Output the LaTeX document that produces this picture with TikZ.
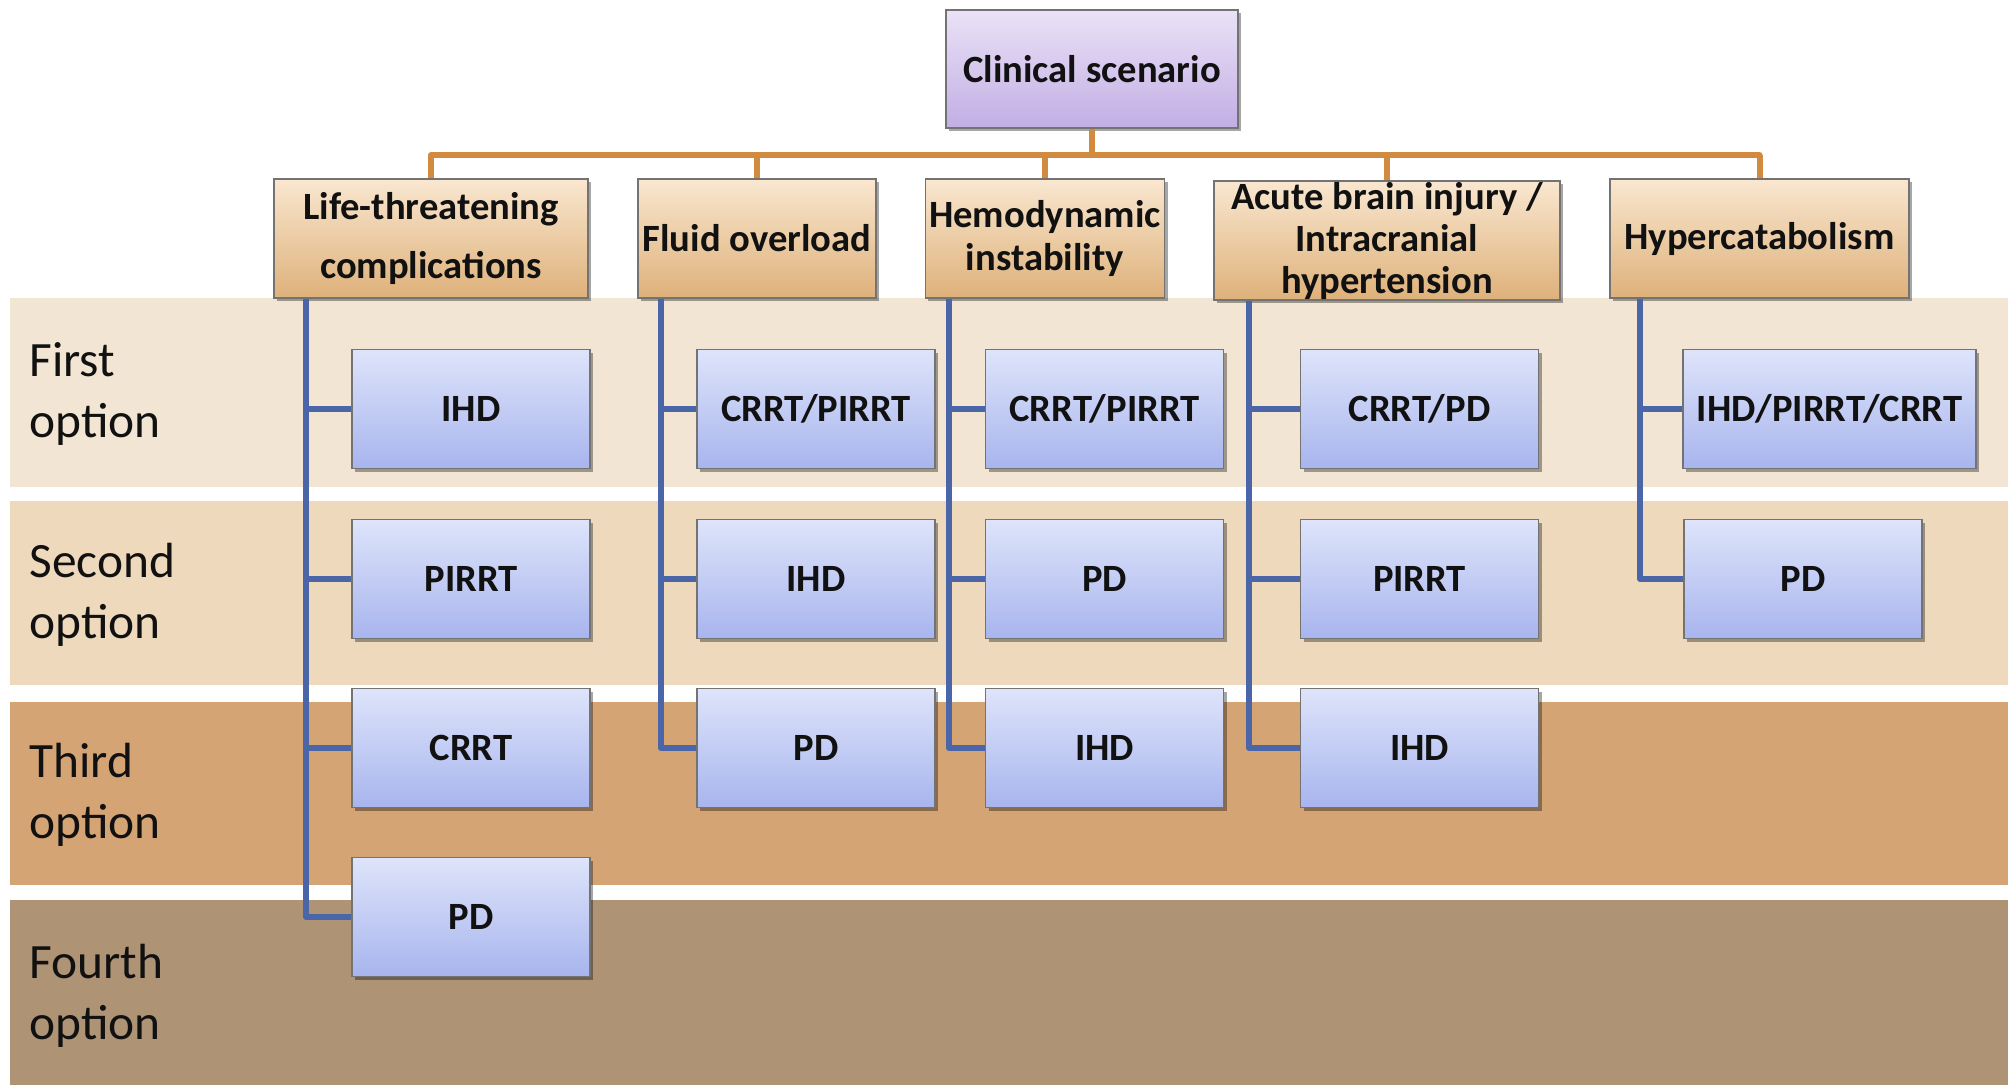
\documentclass[tikz,border=0pt]{standalone}
\usepackage{fontspec}
\setmainfont{Carlito}
\usetikzlibrary{shadows}
\definecolor{bandA}{RGB}{243,229,211}
\definecolor{bandB}{RGB}{238,217,188}
\definecolor{bandC}{RGB}{213,164,117}
\definecolor{bandD}{RGB}{174,147,117}
\definecolor{lavTop}{RGB}{234,226,247}
\definecolor{lavBot}{RGB}{194,174,228}
\definecolor{catTop}{RGB}{249,231,208}
\definecolor{catBot}{RGB}{222,177,122}
\definecolor{bluTop}{RGB}{222,228,250}
\definecolor{bluBot}{RGB}{168,181,238}
\definecolor{blueLine}{RGB}{74,101,168}
\definecolor{orangeLine}{RGB}{210,139,62}
\definecolor{txt}{RGB}{17,17,17}
\tikzset{
  basebox/.style={draw=black!55, line width=0.6pt, inner sep=2pt, align=center,
    text=txt, font=\fontsize{19.3}{21.5}\selectfont\bfseries,
    drop shadow={shadow xshift=1.6pt, shadow yshift=-1.6pt, opacity=0.35, fill=black}},
  topbox/.style={basebox, top color=lavTop, bottom color=lavBot},
  catbox/.style={basebox, top color=catTop, bottom color=catBot, minimum height=59.5pt},
  optbox/.style={basebox, top color=bluTop, bottom color=bluBot, minimum width=119pt, minimum height=59.5pt},
  optlabel/.style={anchor=west, align=left, inner sep=0pt, text=txt,
    font=\fontsize{24.7}{30.7}\selectfont},
  bline/.style={draw=blueLine, line width=3pt, line join=round},
  oline/.style={draw=orangeLine, line width=3pt}
}
\begin{document}
\begin{tikzpicture}[x=0.5pt, y=-0.5pt]
\useasboundingbox (0,0) rectangle (2008,1085);
\fill[white] (0,0) rectangle (2008,1085);
% bands
\fill[bandA] (10,298) rectangle (2008,487);
\fill[bandB] (10,501) rectangle (2008,685);
\fill[bandC] (10,702) rectangle (2008,885);
\fill[bandD] (10,900) rectangle (2008,1085);
% option labels
\node[optlabel] (o1) at (29,394) {First\\option};
\node[optlabel] (o2) at (29,595) {Second\\option};
\node[optlabel] (o3) at (29,795) {Third\\option};
\node[optlabel] (o4) at (29,996) {Fourth\\option};
% top box
\node[topbox, minimum width=146pt, minimum height=59pt] (cs) at (1092,69) {Clinical scenario};
% categories
\node[catbox, minimum width=157pt] (lt) at (431,238.5) {Life-threatening\\[8pt]complications};
\node[catbox, minimum width=119pt] (fo) at (757,238.5) {Fluid overload};
\node[catbox, minimum width=119pt] (hi) at (1045,238.5) {Hemodynamic\\instability};
\node[catbox, minimum width=173pt, inner ysep=0pt] (ab) at (1387,240.5)
  {\raisebox{0pt}[32.6pt][19.4pt]{\fontsize{19.3}{21}\selectfont\bfseries\begin{tabular}{@{}c@{}}Acute brain injury /\\Intracranial\\hypertension\end{tabular}}};
\node[catbox, minimum width=149.5pt] (hc) at (1759.5,238.5) {Hypercatabolism};
% orange connectors
\coordinate (bar) at (0,155);
\draw[oline] (cs.south) -- (cs.south |- bar);
\draw[oline, line cap=round] (lt.north |- bar) -- (hc.north |- bar);
\foreach \n in {lt,fo,hi,ab,hc} \draw[oline] (\n.north |- bar) -- (\n.north);
% trunk coordinates
\coordinate (t1) at (306,0);
\coordinate (t2) at (661,0);
\coordinate (t3) at (949,0);
\coordinate (t4) at (1249,0);
\coordinate (t5) at (1640,0);
% option boxes column 1
\node[optbox] (a1) at (471,409) {IHD};
\node[optbox] (a2) at (471,579) {PIRRT};
\node[optbox] (a3) at (471,748) {CRRT};
\node[optbox] (a4) at (471,917) {PD};
% column 2
\node[optbox] (b1) at (816,409) {CRRT/PIRRT};
\node[optbox] (b2) at (816,579) {IHD};
\node[optbox] (b3) at (816,748) {PD};
% column 3
\node[optbox] (c1) at (1104.5,409) {CRRT/PIRRT};
\node[optbox] (c2) at (1104.5,579) {PD};
\node[optbox] (c3) at (1104.5,748) {IHD};
% column 4
\node[optbox] (d1) at (1419.5,409) {CRRT/PD};
\node[optbox] (d2) at (1419.5,579) {PIRRT};
\node[optbox] (d3) at (1419.5,748) {IHD};
% column 5
\node[optbox, minimum width=146.5pt] (e1) at (1829.5,409) {IHD/PIRRT/CRRT};
\node[optbox] (e2) at (1803,579) {PD};
% blue connectors
\draw[bline] (lt.south -| t1) |- (a4.west);
\draw[bline] (t1 |- a1.west) -- (a1.west);
\draw[bline] (t1 |- a2.west) -- (a2.west);
\draw[bline] (t1 |- a3.west) -- (a3.west);
\draw[bline] (fo.south -| t2) |- (b3.west);
\draw[bline] (t2 |- b1.west) -- (b1.west);
\draw[bline] (t2 |- b2.west) -- (b2.west);
\draw[bline] (hi.south -| t3) |- (c3.west);
\draw[bline] (t3 |- c1.west) -- (c1.west);
\draw[bline] (t3 |- c2.west) -- (c2.west);
\draw[bline] (ab.south -| t4) |- (d3.west);
\draw[bline] (t4 |- d1.west) -- (d1.west);
\draw[bline] (t4 |- d2.west) -- (d2.west);
\draw[bline] (hc.south -| t5) |- (e2.west);
\draw[bline] (t5 |- e1.west) -- (e1.west);
\end{tikzpicture}
\end{document}
